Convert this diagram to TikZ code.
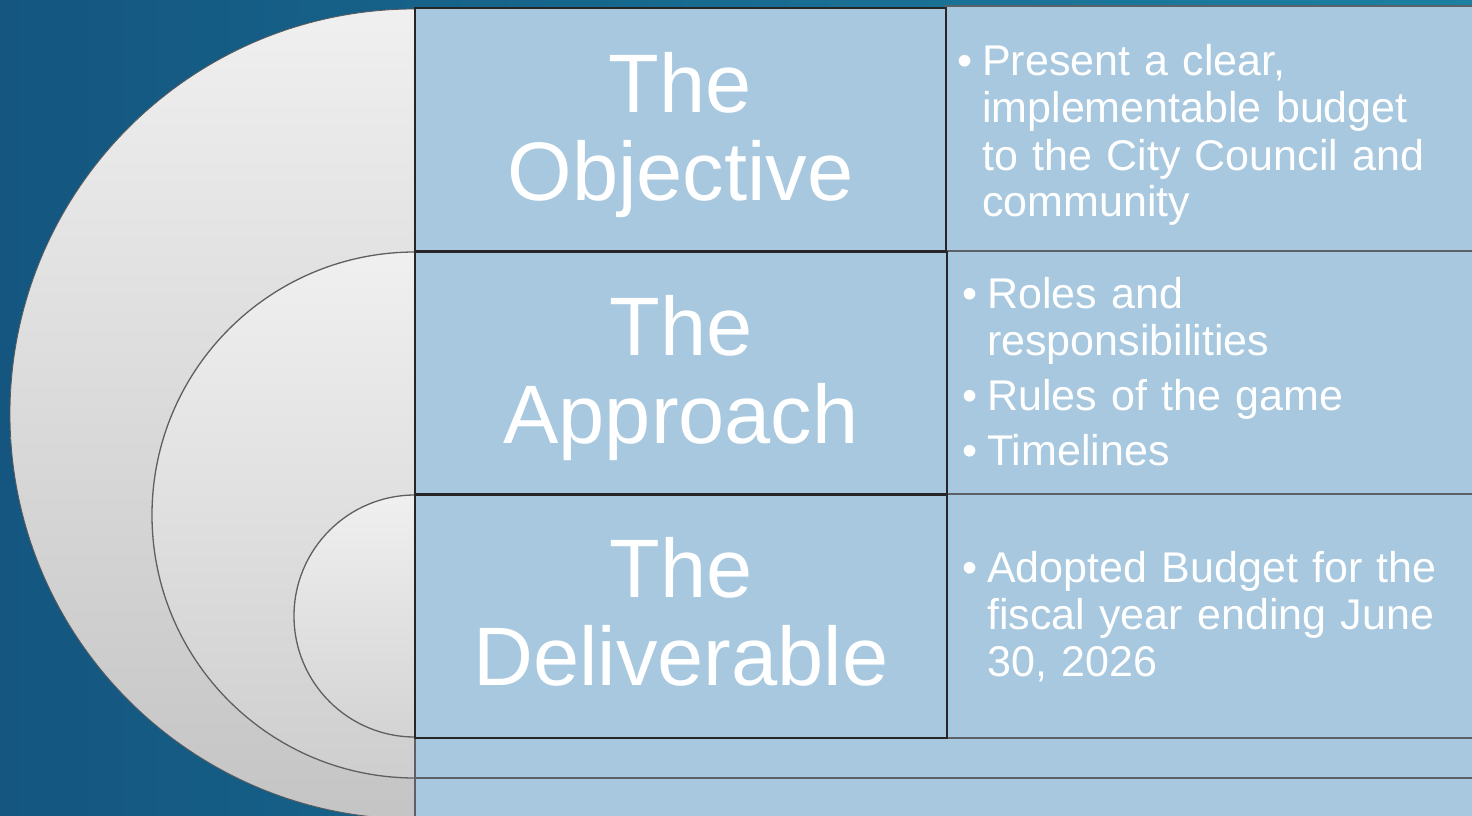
\documentclass[tikz,border=0pt]{standalone}
\usepackage{fontspec}
\setmainfont{Liberation Sans}
\definecolor{bgdark}{RGB}{20,86,128}
\definecolor{bgteal}{RGB}{28,128,160}
\definecolor{cellblue}{RGB}{167,200,222}
\definecolor{celledge}{RGB}{38,38,38}
\definecolor{rowedge}{RGB}{92,97,104}
\definecolor{ringline}{RGB}{95,95,95}
\newcommand{\bul}{\makebox[25pt][l]{\textbullet}}
\newcommand{\ind}{\hspace*{25pt}}
\begin{document}
\begin{tikzpicture}[x=1pt,y=-1pt]
	\tikzstyle{cell}=[rectangle, fill=cellblue, draw=celledge, line width=2pt, inner sep=0pt]
	\tikzstyle{row}=[rectangle, fill=cellblue, draw=rowedge, line width=2pt, inner sep=0pt]
	\tikzstyle{title}=[text=white, font=\fontsize{83}{88}\selectfont, text width=530pt, align=center, anchor=base, inner sep=0pt]
	\tikzstyle{points}=[text=white, font=\fontsize{43}{47}\selectfont, text width=500pt, align=left, anchor=base west, inner sep=0pt]
	\tikzstyle{ring}=[draw=ringline, line width=1.3pt]
	\useasboundingbox (0,0) rectangle (1472,816);
	\shade[left color=bgdark, right color=bgteal] (0,0) rectangle (1472,816);
	
	% the three rings on the left
	\shade[top color=black!6, bottom color=black!23, draw=black!65, line width=0.8pt] (415,414) circle (405);
	\shade[top color=black!6, bottom color=black!19, ring] (415,515) circle (263);
	\shade[top color=black!6, bottom color=black!17, ring] (415,616) circle (121);
	
	% rows on the right and the two strips below
	\draw node[row, minimum width=534pt, minimum height=245pt] at (1213, 128.5) (objrow) {};
	\draw node[row, minimum width=534pt, minimum height=243pt] at (1213, 372.5) (approw) {};
	\draw node[row, minimum width=534pt, minimum height=244pt] at (1213, 616) (delrow) {};
	\draw node[row, minimum width=1065pt, minimum height=40pt] at (947.5, 758) (stripa) {};
	\draw node[row, minimum width=1065pt, minimum height=42pt] at (947.5, 799) (stripb) {};
	
	% title cells
	\draw node[cell, minimum width=531pt, minimum height=243pt] at (680.5, 129.5) (objcell) {};
	\draw node[cell, minimum width=532pt, minimum height=242pt] at (681, 373) (appcell) {};
	\draw node[cell, minimum width=532pt, minimum height=243pt] at (681, 616.5) (delcell) {};
	
	\draw node[title] at (680.5, 112) (objtitle) {The\\Objective};
	\draw node[title] at (681, 355) (apptitle) {The\\Approach};
	\draw node[title] at (681, 597) (deltitle) {The\\Deliverable};
	
	\draw node[points] at (957, 76) (objtext) {\bul Present a clear,\\\ind implementable budget\\\ind to the City Council and\\\ind community};
	\draw node[points] at (962, 308) (apptext) {\bul Roles and\\\ind responsibilities\\[8pt]\bul Rules of the game\\[8pt]\bul Timelines};
	\draw node[points] at (962, 582) (deltext) {\bul Adopted Budget for the\\\ind fiscal year ending June\\\ind 30, 2026};
\end{tikzpicture}
\end{document}
